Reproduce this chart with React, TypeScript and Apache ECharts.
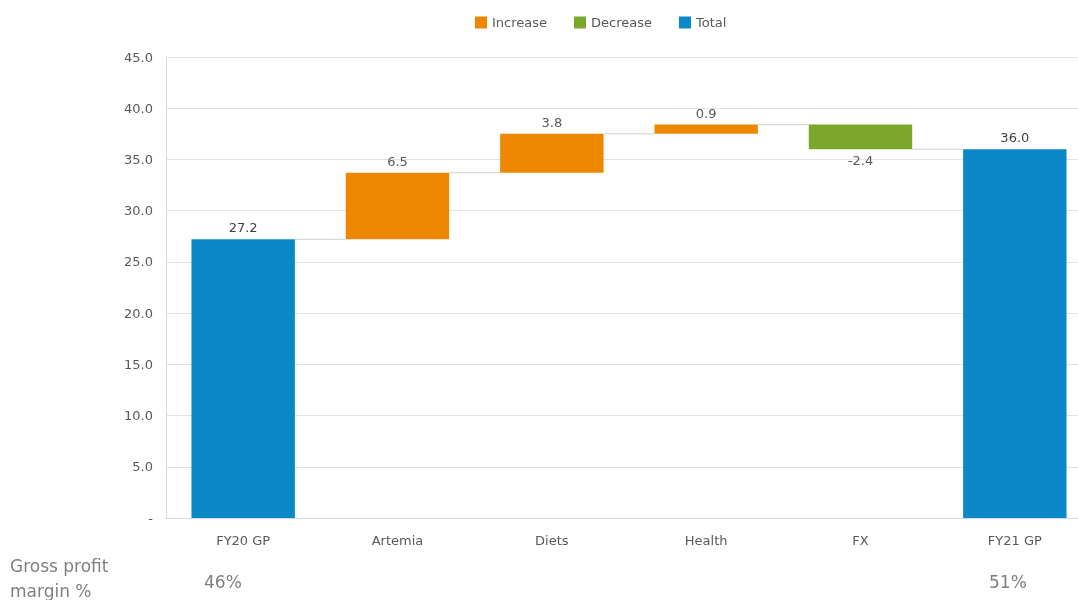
import React, { useEffect, useRef } from "react";
import * as echarts from "echarts";

const categories = ["FY20 GP", "Artemia", "Diets", "Health", "FX", "FY21 GP"];
const totalValues: (number | null)[] = [27.2, null, null, null, null, 36.0];
const increaseValues: (number | null)[] = [null, 6.5, 3.8, 0.9, null, null];
const decreaseValues: (number | null)[] = [null, null, null, null, 2.4, null];
const marginLabels = ["46%", "", "", "", "", "51%"];

const ORANGE = "#EE8700";
const GREEN = "#7BA82A";
const BLUE = "#0A88C8";
const TEXT = "#595959";
const FONT = "DejaVu Sans, Verdana, sans-serif";

export default function App() {
  const ref = useRef<HTMLDivElement>(null);
  useEffect(() => {
    if (!ref.current) return;
    const chart = echarts.init(ref.current, null, { renderer: "svg" });

    const base: (number | null)[] = [];
    const levels: number[] = [];
    let running = 0;
    categories.forEach((_, i) => {
      if (totalValues[i] != null) {
        base.push(null);
        running = totalValues[i] as number;
      } else if (increaseValues[i] != null) {
        base.push(running);
        running += increaseValues[i] as number;
      } else {
        running -= decreaseValues[i] as number;
        base.push(running);
      }
      levels.push(running);
    });
    const connectors = levels.slice(0, -1).map((lv, i) => [i, lv]);

    const barW = "67%";
    chart.setOption({
      animation: false,
      textStyle: { fontFamily: FONT },
      legend: {
        top: 11,
        left: 470,
        itemWidth: 12,
        itemHeight: 12,
        itemGap: 27,
        icon: "rect",
        textStyle: { color: TEXT, fontSize: 13, fontFamily: FONT },
        data: ["Increase", "Decrease", "Total"],
      },
      grid: { left: 166, top: 57, bottom: 82, right: 0 },
      xAxis: {
        type: "category",
        data: categories,
        axisLine: { lineStyle: { color: "#d9d9d9" } },
        axisTick: { show: false },
        axisLabel: { color: TEXT, fontSize: 13, margin: 16, fontFamily: FONT },
      },
      yAxis: {
        type: "value",
        min: 0,
        max: 45,
        interval: 5,
        axisLine: { show: true, lineStyle: { color: "#d9d9d9" } },
        axisTick: { show: false },
        splitLine: { lineStyle: { color: "#e3e3e3" } },
        axisLabel: {
          color: TEXT,
          fontSize: 13,
          margin: 13,
          fontFamily: FONT,
          formatter: (v: number) => (v === 0 ? "-" : v.toFixed(1)),
        },
      },
      series: [
        {
          name: "base",
          type: "bar",
          stack: "wf",
          barWidth: barW,
          itemStyle: { color: "transparent" },
          silent: true,
          data: base,
        },
        {
          name: "Increase",
          type: "bar",
          stack: "wf",
          barWidth: barW,
          itemStyle: { color: ORANGE },
          label: { show: true, position: "top", color: TEXT, fontSize: 13, fontFamily: FONT, formatter: (p: any) => Number(p.value).toFixed(1) },
          data: increaseValues,
        },
        {
          name: "Decrease",
          type: "bar",
          stack: "wf",
          barWidth: barW,
          itemStyle: { color: GREEN },
          label: { show: true, position: "bottom", color: TEXT, fontSize: 13, fontFamily: FONT, formatter: (p: any) => "-" + Number(p.value).toFixed(1) },
          data: decreaseValues,
        },
        {
          name: "Total",
          type: "bar",
          stack: "wf",
          barWidth: barW,
          itemStyle: { color: BLUE },
          label: { show: true, position: "top", color: "#404040", fontSize: 13, fontFamily: FONT, formatter: (p: any) => Number(p.value).toFixed(1) },
          data: totalValues,
        },
        {
          name: "connectors",
          type: "custom",
          silent: true,
          z: 1,
          renderItem: (params: any, api: any) => {
            const i = api.value(0);
            const lv = api.value(1);
            const p1 = api.coord([i, lv]);
            const p2 = api.coord([i + 1, lv]);
            const band = api.size([1, 0])[0];
            const half = (band * 0.67) / 2;
            return {
              type: "line",
              shape: { x1: p1[0] + half, y1: p1[1], x2: p2[0] - half, y2: p2[1] },
              style: { stroke: "#d0d0d0", lineWidth: 1 },
            };
          },
          data: connectors,
        },
      ],
      graphic: [
        {
          type: "text",
          left: 10,
          top: 553,
          style: { text: "Gross profit\nmargin %", fill: "#7f7f7f", fontSize: 17, lineHeight: 25, fontFamily: FONT },
        },
        ...marginLabels
          .map((t, i) => ({ t, i }))
          .filter((d) => d.t)
          .map((d) => ({
            type: "text",
            left: d.i === 0 ? 204 : 989,
            top: 573,
            style: { text: d.t, fill: "#7f7f7f", fontSize: 17, fontFamily: FONT },
          })),
      ],
    });
    return () => chart.dispose();
  }, []);
  return <div ref={ref} style={{ position: "fixed", left: 0, top: 0, width: 1092, height: 600 }} />;
}
